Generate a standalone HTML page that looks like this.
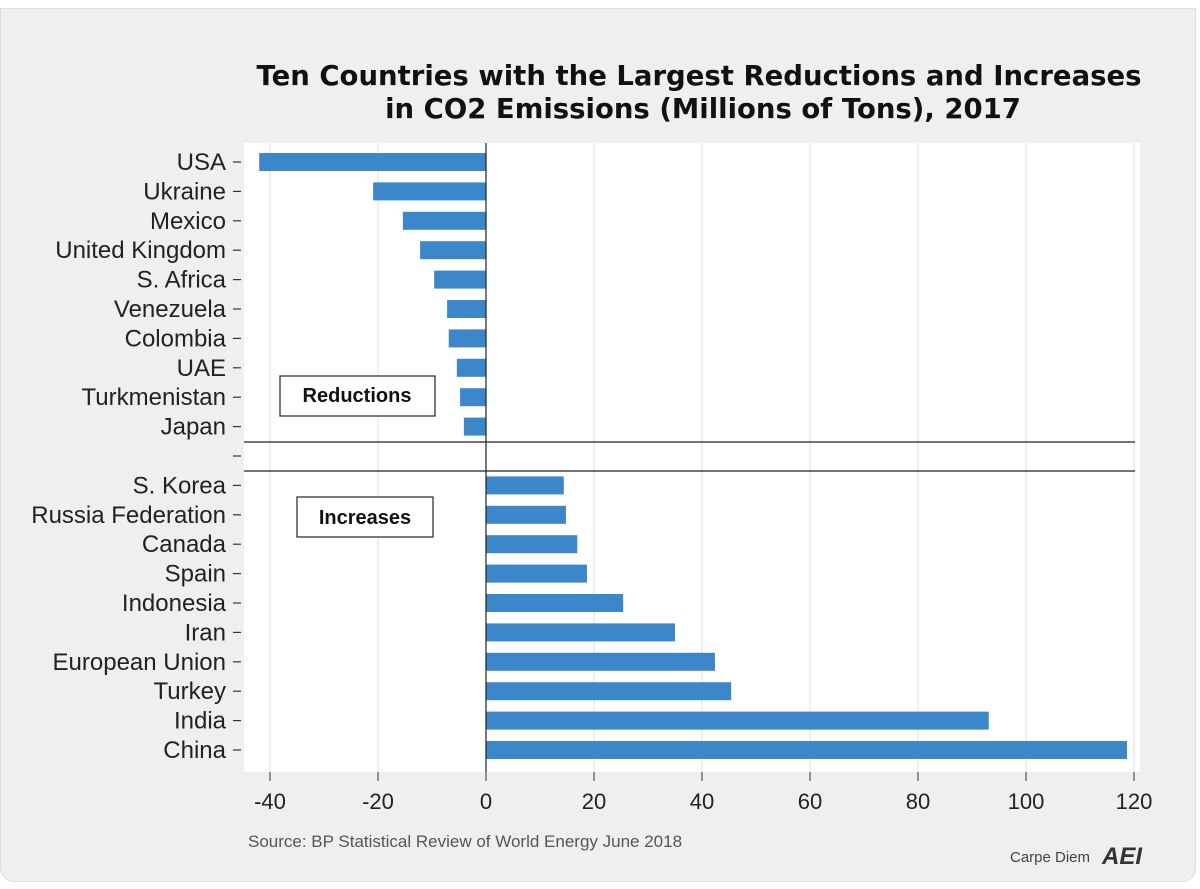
<!DOCTYPE html>
<html><head><meta charset="utf-8"><style>
body{margin:0;background:#fff;width:1200px;height:889px;overflow:hidden;font-family:"Liberation Sans",sans-serif}
#panel{position:absolute;left:0;top:8px;width:1196px;height:874px;background:#efefef;border-radius:0 0 14px 14px;border:1px solid #ddd;box-sizing:border-box}
</style></head><body>
<div id="panel"></div>
<svg id="chart" width="1200" height="889" style="position:absolute;left:0;top:0"></svg>
<script>
const categories=["USA","Ukraine","Mexico","United Kingdom","S. Africa","Venezuela","Colombia","UAE","Turkmenistan","Japan","","S. Korea","Russia Federation","Canada","Spain","Indonesia","Iran","European Union","Turkey","India","China"];
const values=[-42,-20.9,-15.4,-12.2,-9.6,-7.2,-6.9,-5.4,-4.8,-4.1,null,14.4,14.8,16.9,18.7,25.4,35,42.4,45.4,93.1,118.7];
const ticks=[-40,-20,0,20,40,60,80,100,120];
const NS="http://www.w3.org/2000/svg",svg=document.getElementById('chart');
function x(v){return 486+v*5.4;}
function y(i){return 162+i*29.4;}
function mk(t,a,txt){const e=document.createElementNS(NS,t);for(const k in a)e.setAttribute(k,a[k]);if(txt!==undefined)e.textContent=txt;svg.appendChild(e);return e;}
let e;
e=mk('text',{x:699,y:85,'text-anchor':'middle','font-size':27.5,'font-weight':'bold',fill:'#111','font-family':'DejaVu Sans, sans-serif'},'Ten Countries with the Largest Reductions and Increases');

e=mk('text',{x:703,y:118,'text-anchor':'middle','font-size':27.5,'font-weight':'bold',fill:'#111','font-family':'DejaVu Sans, sans-serif'},'in CO2 Emissions (Millions of Tons), 2017');

e=mk('rect',{x:244,y:143,width:896,height:629,fill:'#fff'});

ticks.forEach(t=>{
 if(t!==0){e=mk('line',{x1:x(t),x2:x(t),y1:143,y2:772,stroke:'#ddd','stroke-width':1});
 }
 e=mk('line',{x1:x(t),x2:x(t),y1:772,y2:781,stroke:'#333','stroke-width':1});
 
 e=mk('text',{x:x(t),y:809,'text-anchor':'middle','font-size':22,fill:'#222'},t);
 
});
categories.forEach((c,i)=>{
 e=mk('line',{x1:233,x2:241,y1:y(i),y2:y(i),stroke:'#333','stroke-width':1.2});
 
 if(c){e=mk('text',{x:226,y:y(i)+8,'text-anchor':'end','font-size':24,fill:'#222'},c);
 }
 const v=values[i];
 if(v!==null){const x0=Math.min(x(0),x(v));
 e=mk('rect',{x:x0,y:y(i)-9,width:Math.abs(x(v)-x(0)),height:18,fill:'#3b87c9'});
 }
});
e=mk('line',{x1:486,x2:486,y1:143,y2:772,stroke:'#222','stroke-width':1.2});

[442,471].forEach(yy=>{e=mk('line',{x1:244,x2:1135,y1:yy,y2:yy,stroke:'#222','stroke-width':1.2});
 });
e=mk('rect',{x:280,y:376,width:155,height:40,fill:'#fff',stroke:'#222','stroke-width':1.2});

e=mk('text',{x:357,y:402,'text-anchor':'middle','font-size':20,'font-weight':'bold',fill:'#111'},'Reductions');

e=mk('rect',{x:297,y:497,width:136,height:40,fill:'#fff',stroke:'#222','stroke-width':1.2});

e=mk('text',{x:365,y:524,'text-anchor':'middle','font-size':20,'font-weight':'bold',fill:'#111'},'Increases');

e=mk('text',{x:248,y:847,'font-size':17,fill:'#555'},'Source: BP Statistical Review of World Energy June 2018');

e=mk('text',{x:1010,y:862,'font-size':15,fill:'#444'},'Carpe Diem');

e=mk('text',{x:1102,y:864,'font-size':24,'font-weight':'bold','font-style':'italic',fill:'#333'},'AEI');

</script>
</body></html>
